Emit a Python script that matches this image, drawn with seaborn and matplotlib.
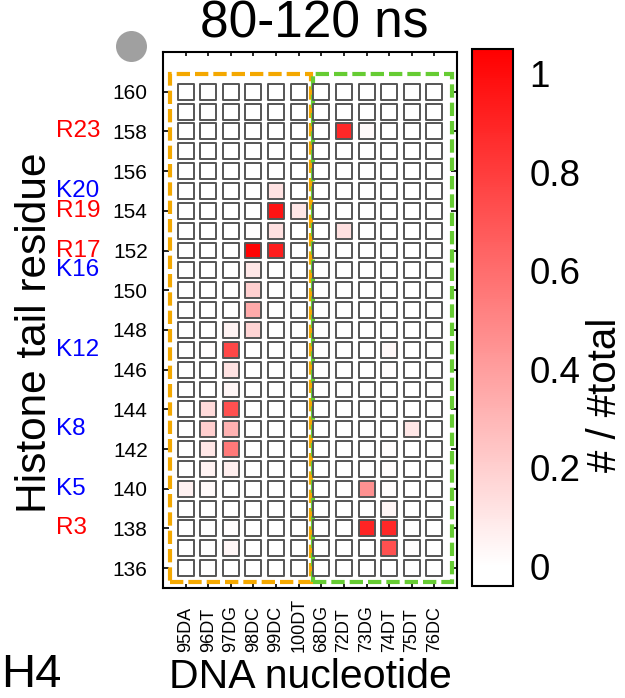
import numpy as np
import pandas as pd
import seaborn as sns
import matplotlib
matplotlib.use("Agg")
import matplotlib.pyplot as plt
from matplotlib.colors import LinearSegmentedColormap, Normalize
from matplotlib.patches import Rectangle, Ellipse
from matplotlib.transforms import blended_transform_factory

# DNA nucleotides (x) and histone residues (y)
nucleotides = ['95DA', '96DT', '97DG', '98DC', '99DC', '100DT',
               '68DG', '72DT', '73DG', '74DT', '75DT', '76DC']
residues = list(range(160, 135, -1))

# contact fraction, one row per residue (160 at top -> 136 at bottom)
contact = [
    [0, 0, 0, 0, 0, 0, 0, 0, 0, 0, 0, 0],                    # 160
    [0, 0, 0, 0, 0, 0, 0, 0, 0, 0, 0, 0],                    # 159
    [0, 0, 0, 0, 0, 0, 0, 0.88, 0.02, 0, 0, 0],              # 158
    [0, 0, 0, 0, 0, 0, 0, 0, 0, 0, 0, 0],                    # 157
    [0, 0, 0, 0, 0, 0, 0, 0, 0, 0, 0, 0],                    # 156
    [0, 0, 0, 0, 0.12, 0, 0, 0, 0, 0, 0, 0],                 # 155
    [0, 0, 0, 0, 0.97, 0.10, 0, 0, 0, 0, 0, 0],              # 154
    [0, 0, 0, 0.01, 0.13, 0, 0, 0.13, 0, 0, 0, 0],           # 153
    [0, 0, 0, 1.03, 0.93, 0, 0, 0, 0, 0, 0, 0],              # 152
    [0, 0, 0, 0.10, 0, 0, 0, 0, 0, 0, 0, 0],                 # 151
    [0, 0, 0, 0.20, 0, 0, 0, 0, 0, 0, 0, 0],                 # 150
    [0, 0, 0, 0.35, 0, 0, 0, 0, 0, 0, 0, 0],                 # 149
    [0, 0, 0.05, 0.18, 0, 0, 0, 0, 0, 0, 0, 0],              # 148
    [0, 0.01, 0.76, 0, 0, 0, 0, 0, 0, 0.03, 0, 0],           # 147
    [0, 0, 0.12, 0, 0, 0, 0, 0, 0, 0.01, 0, 0],              # 146
    [0, 0, 0.04, 0, 0, 0, 0, 0, 0, 0, 0, 0],                 # 145
    [0, 0.15, 0.72, 0, 0, 0, 0, 0, 0, 0, 0, 0],              # 144
    [0, 0.20, 0.32, 0, 0, 0, 0, 0, 0, 0, 0.10, 0],           # 143
    [0, 0.10, 0.55, 0, 0, 0, 0, 0, 0, 0.01, 0, 0],           # 142
    [0, 0.05, 0.07, 0, 0, 0, 0, 0, 0, 0.01, 0, 0],           # 141
    [0.06, 0.02, 0, 0, 0, 0, 0, 0, 0.45, 0.01, 0, 0],        # 140
    [0, 0, 0, 0, 0, 0, 0, 0, 0, 0.04, 0, 0],                 # 139
    [0, 0, 0.01, 0, 0, 0, 0, 0, 0.90, 0.88, 0, 0],           # 138
    [0, 0, 0.04, 0, 0, 0, 0, 0, 0, 0.72, 0.01, 0],           # 137
    [0, 0, 0, 0, 0, 0, 0, 0, 0, 0, 0, 0],                    # 136
]

# named residues of the H4 tail
res_names = ['R23', 'K20', 'R19', 'R17', 'K16', 'K12', 'K8', 'K5', 'R3']
res_pos = [158, 155, 154, 152, 151, 147, 143, 140, 138]
res_colors = ['red', 'blue', 'red', 'red', 'blue', 'blue', 'blue', 'blue', 'red']

cb_ticks = [0, 0.2, 0.4, 0.6, 0.8, 1]

rows = []
for r, vals in zip(residues, contact):
    for i, v in enumerate(vals):
        rows.append({'col': i, 'res': r, 'val': v})
df = pd.DataFrame(rows)

sns.set_theme(style='white')
plt.rcParams['font.family'] = ['Liberation Sans', 'DejaVu Sans']
plt.rcParams['text.color'] = 'black'
plt.rcParams['xtick.color'] = 'black'
plt.rcParams['ytick.color'] = 'black'
plt.rcParams['axes.labelcolor'] = 'black'

vmin, vmax = -0.04, 1.05
zero_at = (0 - vmin) / (vmax - vmin)
cmap = LinearSegmentedColormap.from_list('wr', [(0, '#ffffff'), (zero_at, '#ffffff'), (1, '#ff0000')])
norm = Normalize(vmin=vmin, vmax=vmax)

fig = plt.figure(figsize=(6.25, 6.98), dpi=100)
ax = fig.add_axes([163 / 625, 1 - 588 / 698, 294 / 625, 536 / 698])

# dashed boxes around the two DNA strands
ax.add_patch(Rectangle((-0.68, 135.3), 6.24, 25.6, fill=False, edgecolor='#f4a800',
                       lw=3, ls=(0, (3.2, 1.2)), zorder=1))
ax.add_patch(Rectangle((5.62, 135.3), 6.15, 25.6, fill=False, edgecolor='#66cc33',
                       lw=3, ls=(0, (3.2, 1.2)), zorder=1))

sns.scatterplot(data=df, x='col', y='res', hue='val', palette=cmap, hue_norm=norm,
                marker='s', s=132, edgecolor='#555555', linewidth=1.4,
                legend=False, ax=ax, zorder=3)

ax.set_xlim(-1, 12)
ax.set_ylim(135, 162)
ax.set_xlabel('')
ax.set_ylabel('')
for sp in ax.spines.values():
    sp.set_linewidth(1.5)
    sp.set_color('black')

ax.set_xticks(range(len(nucleotides)))
ax.set_xticklabels(nucleotides, rotation=90, fontsize=13)
for lab in ax.get_xticklabels():
    lab.set_verticalalignment('bottom')
ax.tick_params(axis='x', direction='in', length=3, width=1.2, top=True, bottom=True, pad=46)
ax.set_yticks(range(136, 161, 2))
ax.tick_params(axis='y', direction='in', length=4.5, width=1.2, left=True, right=True,
               labelsize=15, pad=11)

trans = blended_transform_factory(fig.transFigure, ax.transData)
for name, pos, c in zip(res_names, res_pos, res_colors):
    ax.text(56 / 625, pos, name, color=c, fontsize=17.5, ha='left', va='center',
            transform=trans, clip_on=False)

# colour bar
cax = fig.add_axes([472 / 625, 1 - 586 / 698, 41 / 625, 537 / 698])
sm = plt.cm.ScalarMappable(norm=norm, cmap=cmap)
cb = fig.colorbar(sm, cax=cax, ticks=cb_ticks)
cb.ax.set_yticklabels([f'{t:g}' for t in cb_ticks])
cb.outline.set_linewidth(1.5)
cb.outline.set_edgecolor('black')
cax.tick_params(direction='in', length=3, width=1, left=True, right=True,
                labelsize=26.5, pad=12)

fig.text(605 / 625, 1 - 395 / 698, '# / #total', rotation=90, fontsize=29,
         ha='center', va='center')
fig.text(35 / 625, 1 - 333 / 698, 'Histone tail residue', rotation=90, fontsize=30.5,
         ha='center', va='center')
fig.text(310 / 625, 1 - 688 / 698, 'DNA nucleotide', fontsize=29.5,
         ha='center', va='baseline')
fig.text(314 / 625, 1 - 38 / 698, '80-120 ns', fontsize=37, ha='center', va='baseline')
fig.text(1 / 625, 1 / 698, 'H4', fontsize=34, ha='left', va='bottom')

fig.add_artist(Ellipse((131.5 / 625, 1 - 46.5 / 698), 31 / 625, 31 / 698,
                       transform=fig.transFigure, color='#a0a0a0', lw=0))

fig.savefig('out.png', dpi=100)
